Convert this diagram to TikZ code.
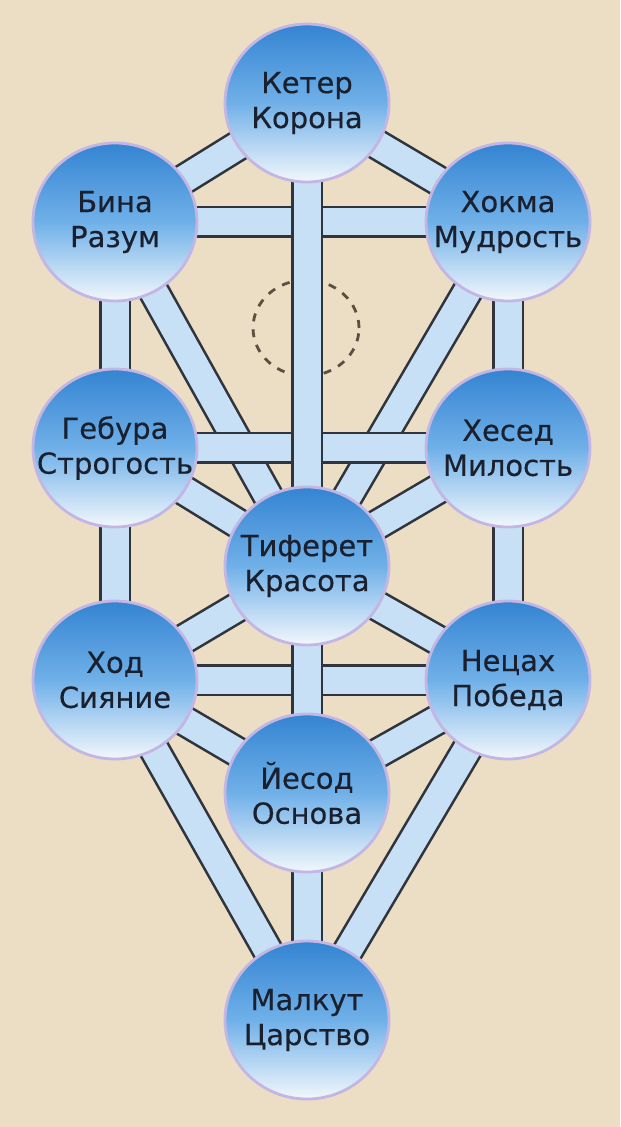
\documentclass[tikz,border=0pt]{standalone}
\usepackage{fontspec}
\newfontfamily\sefirafont[FakeBold=0.4]{DejaVu Sans}
\usetikzlibrary{shapes.geometric,backgrounds}

\definecolor{parchment}{RGB}{236,222,196}
\definecolor{pathblue}{RGB}{200,224,245}
\definecolor{pathedge}{RGB}{48,52,60}
\definecolor{sefiratop}{RGB}{52,132,210}
\definecolor{sefiramid}{RGB}{112,176,232}
\definecolor{sefirabot}{RGB}{242,247,252}
\definecolor{sefirarim}{RGB}{196,182,228}
\definecolor{daatline}{RGB}{90,80,66}
\definecolor{inkdark}{RGB}{26,32,46}

\tikzset{
    sefira/.style={ellipse, minimum width=82pt, minimum height=79pt, inner sep=0pt,
        draw=sefirarim, line width=1.4pt,
        top color=sefiratop, bottom color=sefirabot, middle color=sefiramid},
    sefiraname/.style={align=center, text=inkdark, inner sep=0pt,
        font=\sefirafont\fontsize{14.5}{17.5}\selectfont},
    band/.style={draw=pathedge, line width=1.3pt,
        double=pathblue, double distance=13.5pt},
    daatring/.style={ellipse, minimum width=53pt, minimum height=48pt,
        inner sep=0pt, draw=daatline, line width=1.4pt,
        dash pattern=on 4pt off 4pt}
}

\begin{document}
\begin{tikzpicture}[x=0.5pt,y=-0.5pt]
                \useasboundingbox
                    (0,0) rectangle (620,1127);
                \node[sefira] (keter) at (307,103) {};
                \node[sefiraname] (keter-name) at (keter) {Кетер\\Корона};
                \node[sefira] (bina) at (115,222) {};
                \node[sefiraname] (bina-name) at (bina) {Бина\\Разум};
                \node[sefira] (hokhma) at (508,222) {};
                \node[sefiraname] (hokhma-name) at (hokhma) {Хокма\\Мудрость};
                \node[sefira] (gevura) at (115,448) {};
                \node[sefiraname] (gevura-name) at (gevura) {Гебура\\Строгость};
                \node[sefira] (hesed) at (508,448) {};
                \node[sefiraname] (hesed-name) at (hesed) {Хесед\\Милость};
                \node[sefira] (tiferet) at (307,566) {};
                \node[sefiraname] (tiferet-name) at (tiferet) {Тиферет\\Красота};
                \node[sefira] (hod) at (115,680) {};
                \node[sefiraname] (hod-name) at (hod) {Ход\\Сияние};
                \node[sefira] (netzah) at (508,680) {};
                \node[sefiraname] (netzah-name) at (netzah) {Нецах\\Победа};
                \node[sefira] (yesod) at (307,793) {};
                \node[sefiraname] (yesod-name) at (yesod) {Йесод\\Основа};
                \node[sefira] (malkut) at (307,1020) {};
                \node[sefiraname] (malkut-name) at (malkut) {Малкут\\Царство};
                \begin{pgfonlayer}{background}
                \fill[parchment]
                    (0,0) rectangle (620,1127);
                \node[daatring] (daat) at (306,328) {};
                % diagonal paths
                \draw[band]
                    (keter.center) -- (bina.center);
                \draw[band]
                    (keter.center) -- (hokhma.center);
                \draw[band]
                    (bina.center) -- (tiferet.center);
                \draw[band]
                    (hokhma.center) -- (tiferet.center);
                \draw[band]
                    (gevura.center) -- (tiferet.center);
                \draw[band]
                    (hesed.center) -- (tiferet.center);
                \draw[band]
                    (tiferet.center) -- (hod.center);
                \draw[band]
                    (tiferet.center) -- (netzah.center);
                \draw[band]
                    (hod.center) -- (yesod.center);
                \draw[band]
                    (netzah.center) -- (yesod.center);
                \draw[band]
                    (hod.center) -- (malkut.center);
                \draw[band]
                    (netzah.center) -- (malkut.center);
                % horizontal paths
                \draw[band]
                    (bina.center) -- (hokhma.center);
                \draw[band]
                    (gevura.center) -- (hesed.center);
                \draw[band]
                    (hod.center) -- (netzah.center);
                % vertical paths
                \draw[band]
                    (keter.center) -- (tiferet.center);
                \draw[band]
                    (tiferet.center) -- (yesod.center);
                \draw[band]
                    (yesod.center) -- (malkut.center);
                \draw[band]
                    (bina.center) -- (gevura.center);
                \draw[band]
                    (gevura.center) -- (hod.center);
                \draw[band]
                    (hokhma.center) -- (hesed.center);
                \draw[band]
                    (hesed.center) -- (netzah.center);
                \end{pgfonlayer}
            \end{tikzpicture}
\end{document}
